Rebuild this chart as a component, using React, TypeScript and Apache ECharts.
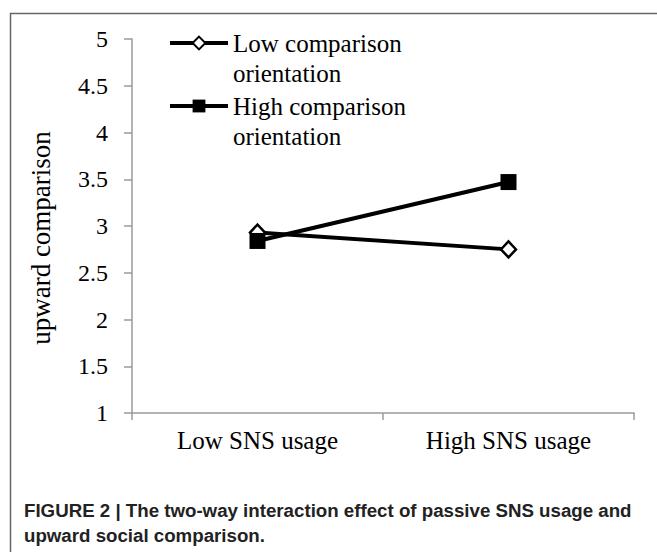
import React, { useEffect, useRef } from 'react';
import * as echarts from 'echarts';

const categories = ['Low SNS usage', 'High SNS usage'];
const lowComparison = [2.93, 2.75];
const highComparison = [2.84, 3.47];
const seriesNames = ['Low comparison orientation', 'High comparison orientation'];
const legendLabels = ['\nLow comparison\norientation', '\nHigh comparison\norientation'];
const yAxisName = 'upward comparison';
const captionLines = [
  'FIGURE 2 | The two-way interaction effect of passive SNS usage and',
  'upward social comparison.',
];

const SERIF = '"Liberation Serif", "Times New Roman", serif';
const SANS = '"Liberation Sans", Arial, sans-serif';

export default function App() {
  const ref = useRef<HTMLDivElement>(null);
  useEffect(() => {
    if (!ref.current) return;
    const chart = echarts.init(ref.current, undefined, { renderer: 'svg' });
    const axisColor = '#9a9a9a';
    const legendBase = (i: number, top: number) => ({
      data: [seriesNames[i]],
      left: 168,
      top,
      orient: 'vertical',
      padding: 0,
      itemWidth: 58,
      itemHeight: 16,
      lineStyle: { width: 4, color: '#000' },
      formatter: () => legendLabels[i],
      textStyle: {
        fontFamily: SERIF,
        fontSize: 25,
        lineHeight: 30,
        color: '#000',
      },
    });
    chart.setOption({
      animation: false,
      backgroundColor: '#fff',
      grid: { left: 132, right: 23, top: 39, bottom: 139, containLabel: false },
      legend: [legendBase(0, -2), legendBase(1, 61)],
      xAxis: {
        type: 'category',
        data: categories,
        boundaryGap: true,
        axisLine: { lineStyle: { color: axisColor, width: 1.5 } },
        axisTick: { show: true, length: 7, lineStyle: { color: axisColor, width: 1.5 } },
        axisLabel: { fontFamily: SERIF, fontSize: 25, color: '#000', margin: 15 },
      },
      yAxis: {
        type: 'value',
        min: 1,
        max: 5,
        interval: 0.5,
        name: yAxisName,
        nameLocation: 'middle',
        nameGap: 78,
        nameRotate: 90,
        nameTextStyle: { fontFamily: SERIF, fontSize: 27, color: '#000', padding: [0, 24, 0, 0] },
        splitLine: { show: false },
        axisLine: { show: true, lineStyle: { color: axisColor, width: 1.5 } },
        axisTick: { show: true, length: 8, lineStyle: { color: axisColor, width: 1.5 } },
        axisLabel: { fontFamily: SERIF, fontSize: 24, color: '#000', margin: 24 },
      },
      series: [
        {
          name: seriesNames[0],
          type: 'line',
          data: lowComparison,
          symbol: 'diamond',
          symbolSize: [15, 16],
          lineStyle: { color: '#000', width: 4 },
          itemStyle: { color: '#fff', borderColor: '#000', borderWidth: 2.5 },
          z: 2,
        },
        {
          name: seriesNames[1],
          type: 'line',
          data: highComparison,
          symbol: 'rect',
          symbolSize: 16,
          lineStyle: { color: '#000', width: 4 },
          itemStyle: { color: '#000', borderColor: '#000', borderWidth: 0 },
          z: 3,
        },
      ],
      graphic: [
        {
          type: 'rect',
          left: 8,
          top: 11,
          shape: { x: 0, y: 0, width: 700, height: 600 },
          style: { fill: 'none', stroke: '#666', lineWidth: 1.5 },
          z: -1,
          silent: true,
        },
        {
          type: 'text',
          left: 24,
          top: 498,
          style: {
            text: captionLines.join('\n'),
            font: `bold 18.7px ${SANS}`,
            fill: '#222',
            lineHeight: 25,
          },
        },
      ],
    });
    return () => chart.dispose();
  }, []);
  return (
    <div
      ref={ref}
      style={{ position: 'fixed', left: 0, top: 0, width: 657, height: 552 }}
    />
  );
}
